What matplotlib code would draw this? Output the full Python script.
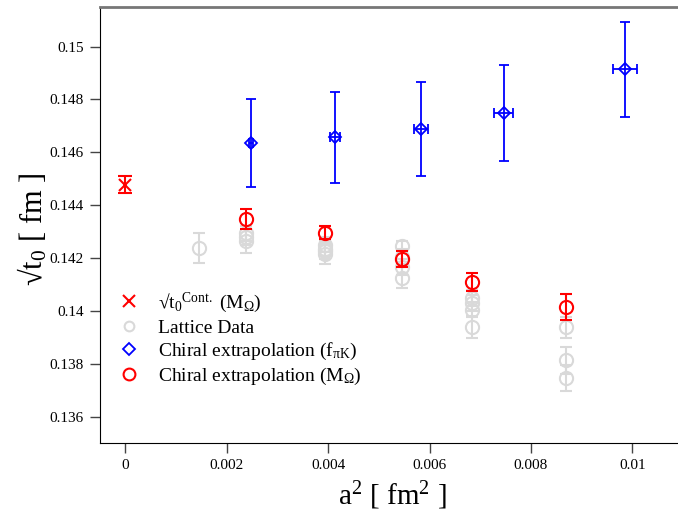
import matplotlib
matplotlib.use("Agg")
import matplotlib.pyplot as plt
from matplotlib.lines import Line2D

plt.rcParams['font.family'] = ['Liberation Serif', 'DejaVu Serif']
plt.rcParams['mathtext.fontset'] = 'custom'
plt.rcParams['mathtext.rm'] = 'Liberation Serif'
plt.rcParams['mathtext.it'] = 'Liberation Serif'
plt.rcParams['mathtext.bf'] = 'Liberation Serif:bold'
plt.rcParams['mathtext.default'] = 'rm'

# ---- data ----
cont_x = [0.0]
cont_y = [0.14478]
cont_err = [0.00033]

gray_x = [0.00145,
          0.00238, 0.00238, 0.00238,
          0.00393, 0.00393, 0.00393, 0.00393,
          0.00545, 0.00545, 0.00545, 0.00545,
          0.00683, 0.00683, 0.00683, 0.00683,
          0.00870, 0.00870, 0.00870]
gray_y = [0.14239,
          0.14293, 0.14280, 0.14264,
          0.14251, 0.14236, 0.14225, 0.14214,
          0.14245, 0.14205, 0.14165, 0.14125,
          0.14049, 0.14030, 0.14005, 0.13939,
          0.13938, 0.13813, 0.13747]
gray_err = [0.00057,
            0.0003, 0.0003, 0.00045,
            0.0003, 0.0003, 0.0003, 0.00037,
            0.0002, 0.0003, 0.0003, 0.0004,
            0.0003, 0.0003, 0.0003, 0.0004,
            0.0004, 0.0005, 0.0005]

blue_x = [0.00248, 0.00413, 0.00583, 0.00746, 0.00986]
blue_y = [0.14634, 0.14657, 0.14688, 0.14748, 0.14914]
blue_yerr = [0.00167, 0.00173, 0.00177, 0.00181, 0.0018]
blue_xerr = [0.00004, 0.0001, 0.000145, 0.00019, 0.00024]

red_x = [0.00238, 0.00393, 0.00545, 0.00683, 0.00870]
red_y = [0.14348, 0.14296, 0.14197, 0.14110, 0.14015]
red_err = [0.00038, 0.00025, 0.0003, 0.00033, 0.0005]

xticks = [0, 0.002, 0.004, 0.006, 0.008, 0.01]
xticklabels = ['0', '0.002', '0.004', '0.006', '0.008', '0.01']
yticks = [0.136, 0.138, 0.14, 0.142, 0.144, 0.146, 0.148, 0.15]
yticklabels = ['0.136', '0.138', '0.14', '0.142', '0.144', '0.146', '0.148', '0.15']

# ---- figure ----
fig = plt.figure(figsize=(6.78, 5.11), dpi=100)
ax = fig.add_axes([100/678, 1 - 443/511, 578/678, (443 - 7)/511])

gray = '#d9d9d9'
ax.errorbar(gray_x, gray_y, yerr=gray_err, fmt='o', mfc='none', mec=gray,
            ecolor=gray, ms=9.5, mew=1.5, elinewidth=1.5, capsize=4.2, capthick=1.5, zorder=2)
ax.errorbar(red_x, red_y, yerr=red_err, fmt='o', mfc='none', mec='red',
            ecolor='red', ms=9.5, mew=1.5, elinewidth=1.5, capsize=4.2, capthick=1.5, zorder=3)
ax.errorbar(blue_x, blue_y, yerr=blue_yerr, xerr=blue_xerr, fmt='D', mfc='none', mec='blue',
            ecolor='blue', ms=6, mew=1.3, elinewidth=1.3, capsize=3.8, capthick=1.3, zorder=4)
ax.errorbar(cont_x, cont_y, yerr=cont_err, fmt='x', color='red', ms=9, mew=1.5,
            elinewidth=1.5, capsize=4.8, capthick=1.5, zorder=5)

ax.set_xlim(-0.0005, 0.0109)
ax.set_ylim(0.1350, 0.1515)
ax.set_xticks(xticks)
ax.set_xticklabels(xticklabels)
ax.set_yticks(yticks)
ax.set_yticklabels(yticklabels)
ax.tick_params(axis='both', direction='out', length=7.5, width=1, color='#444444',
               labelsize=11, pad=4)
ax.spines['top'].set_color('#777777')
ax.spines['top'].set_linewidth(2)
ax.spines['right'].set_visible(False)

ax.set_xlabel(r'a$^2$ [ fm$^2$ ]', fontsize=21)
ax.set_ylabel(r'√t$_0$ [ fm ]', fontsize=22)
ax.xaxis.set_label_coords(0.505, -0.083)
ax.yaxis.set_label_coords(-0.088, 0.49)

handles = [
    Line2D([], [], ls='none', marker='x', color='red', ms=9, mew=1.5),
    Line2D([], [], ls='none', marker='o', mfc='none', mec=gray, ms=7, mew=1.5),
    Line2D([], [], ls='none', marker='D', mfc='none', mec='blue', ms=6, mew=1.3),
    Line2D([], [], ls='none', marker='o', mfc='none', mec='red', ms=8.5, mew=1.5),
]
labels = [r'√t$_0$$^{\rm Cont.}$ (M$_\Omega$)',
          'Lattice Data',
          r'Chiral extrapolation (f$_{\pi\rm K}$)',
          r'Chiral extrapolation (M$_\Omega$)']
ax.legend(handles, labels, loc='upper left', bbox_to_anchor=(0.017, 0.368),
          frameon=False, fontsize=14, handlelength=1.2, handletextpad=0.9,
          labelspacing=0.22, borderaxespad=0)

fig.savefig('out.png', dpi=100)
